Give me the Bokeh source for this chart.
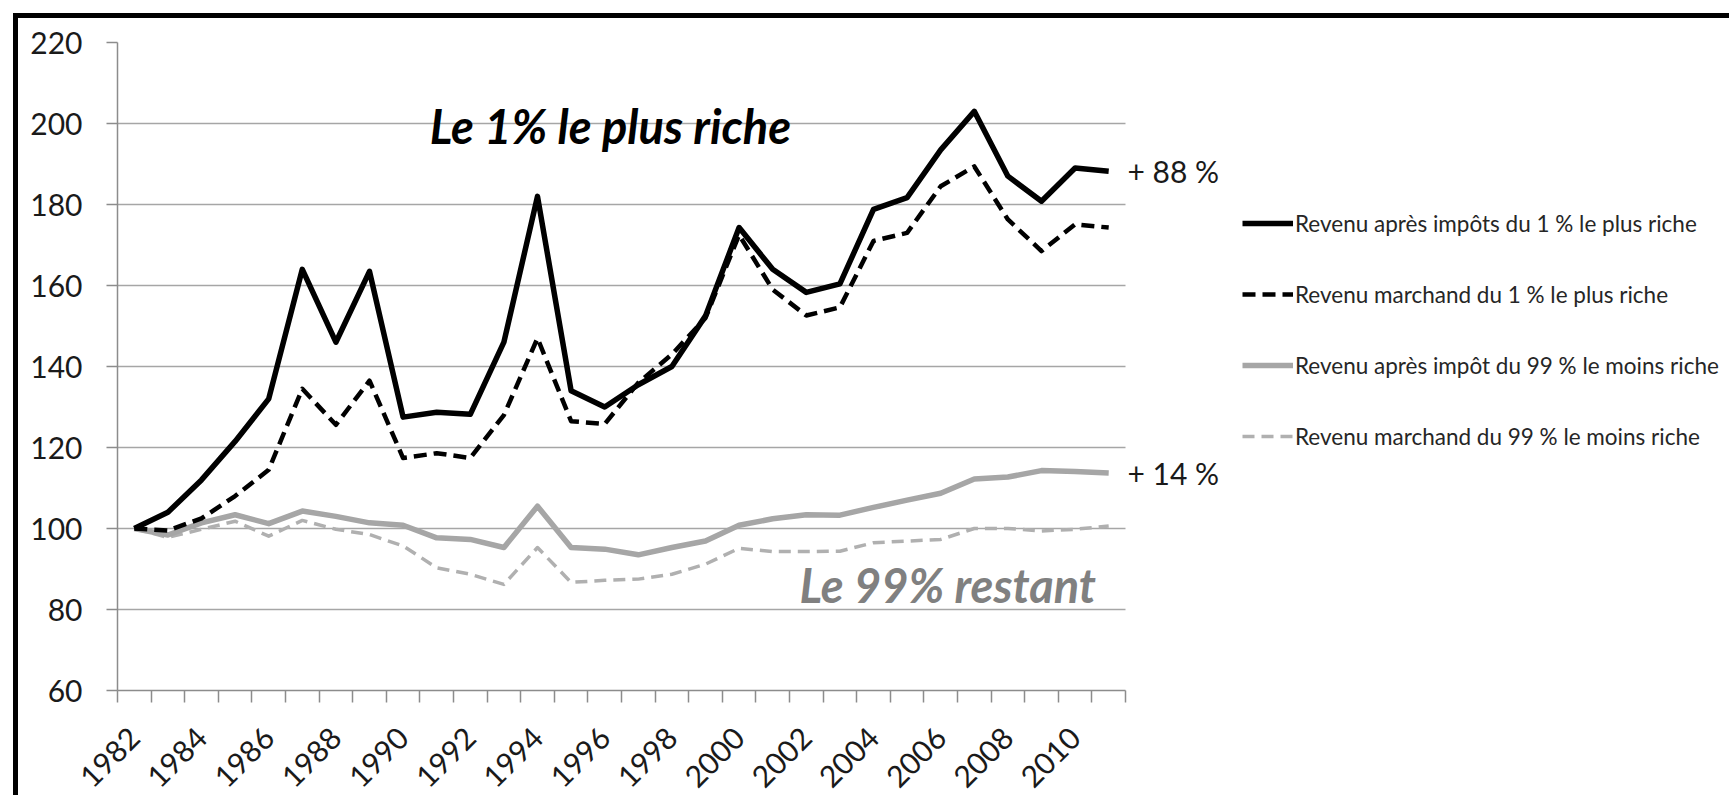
import math
from bokeh.plotting import figure
from bokeh.models import Range1d, FixedTicker, Label, Legend, LegendItem
from bokeh.embed import file_html
from bokeh.resources import INLINE

# ---------------- data ----------------
years = [1982, 1983, 1984, 1985, 1986, 1987, 1988, 1989, 1990, 1991,
         1992, 1993, 1994, 1995, 1996, 1997, 1998, 1999, 2000, 2001,
         2002, 2003, 2004, 2005, 2006, 2007, 2008, 2009, 2010, 2011]

top1_after_tax = [100, 104, 112, 121.5, 132, 164, 146, 163.5, 127.5, 128.7,
                  128.2, 146, 182, 134, 130, 135.5, 140, 152.5, 174.3, 164,
                  158.3, 160.4, 178.8, 181.7, 193.5, 203, 187, 180.8, 189, 188.2]

top1_market = [100, 99.5, 102.5, 108, 114.5, 134.5, 125.6, 136.5, 117.4, 118.6,
               117.4, 128, 147, 126.5, 125.8, 136, 143, 152, 172.5, 159,
               152.6, 154.6, 171, 173, 184.5, 189.4, 176.3, 168.5, 175.1, 174.3]

bottom99_after_tax = [100, 98.4, 101.4, 103.4, 101.2, 104.3, 103, 101.4, 100.8, 97.7,
                      97.3, 95.3, 105.5, 95.3, 94.9, 93.5, 95.3, 96.9, 100.8, 102.4,
                      103.4, 103.3, 105.2, 107, 108.7, 112.2, 112.7, 114.3, 114.1, 113.7]

bottom99_market = [100, 97.8, 99.8, 101.8, 98.1, 102, 99.8, 98.5, 95.7, 90.3,
                   88.7, 86.2, 95.3, 86.7, 87.2, 87.5, 88.7, 91.2, 95.1, 94.3,
                   94.3, 94.4, 96.5, 96.9, 97.3, 100, 100, 99.4, 99.8, 100.6]

series_labels = [
    "Revenu après impôts du 1 % le plus riche",
    "Revenu marchand du 1 % le plus riche",
    "Revenu après impôt du 99 % le moins riche",
    "Revenu marchand du 99 % le moins riche",
]

label_years = [1982, 1984, 1986, 1988, 1990, 1992, 1994, 1996, 1998, 2000,
               2002, 2004, 2006, 2008, 2010]
y_ticks = [60, 80, 100, 120, 140, 160, 180, 200, 220]

growth_labels = ["+ 88 %", "+ 14 %"]
title_top = "Le 1% le plus riche"
title_bottom = "Le 99% restant"

# ---------------- layout ----------------
FONT = "Lato"
W, H = 1716, 782
ML, MR, MT, MB = 99, 5, 24, 107
frame_w = W - ML - MR
px_per_cat = 33.6
x_start = years[0] - 0.5
x_axis_end = years[-1] + 0.5
x_end = x_start + frame_w / px_per_cat

p = figure(width=W, height=H, output_backend="svg", toolbar_location=None,
           x_range=Range1d(x_start, x_end), y_range=Range1d(y_ticks[0], y_ticks[-1]),
           min_border_left=ML, min_border_right=MR, min_border_top=MT,
           min_border_bottom=MB)
p.styles = {"margin-left": "13px", "margin-top": "13px",
            "border-left": "5px solid #000000", "border-top": "5px solid #000000"}
p.outline_line_color = None
p.background_fill_color = "white"
p.border_fill_color = "white"

AXIS_GRAY = "#8c8c8c"

# x axis
xa = p.xaxis[0]
xa.bounds = (x_start, x_axis_end)
boundaries = [y - 0.5 for y in years] + [years[-1] + 0.5]
xa.ticker = FixedTicker(ticks=label_years, minor_ticks=boundaries)
xa.major_tick_line_color = None
xa.minor_tick_line_color = AXIS_GRAY
xa.minor_tick_line_width = 1.5
xa.minor_tick_out = 12
xa.minor_tick_in = 0
xa.axis_line_color = AXIS_GRAY
xa.axis_line_width = 1.5
xa.major_label_orientation = math.pi / 4
xa.major_label_text_font = FONT
xa.major_label_text_font_size = "30px"
xa.major_label_text_color = "#1a1a1a"
xa.major_label_standoff = 30

# y axis
ya = p.yaxis[0]
ya.ticker = FixedTicker(ticks=y_ticks, minor_ticks=[])
ya.major_tick_line_color = AXIS_GRAY
ya.major_tick_line_width = 1.5
ya.major_tick_out = 11
ya.major_tick_in = 0
ya.minor_tick_line_color = None
ya.axis_line_color = AXIS_GRAY
ya.axis_line_width = 1.5
ya.major_label_text_font = FONT
ya.major_label_text_font_size = "30px"
ya.major_label_text_color = "#1a1a1a"
ya.major_label_standoff = 24

# grid
p.xgrid.grid_line_color = None
yg = p.ygrid[0]
yg.ticker = FixedTicker(ticks=y_ticks, minor_ticks=[])
if "cross_bounds" in yg.properties():
    yg.cross_bounds = (x_start, x_axis_end)
    yg.grid_line_color = "#a6a6a6"
    yg.grid_line_width = 1.5
else:
    yg.grid_line_color = None
    p.segment(x0=[x_start] * len(y_ticks), x1=[x_axis_end] * len(y_ticks),
              y0=y_ticks, y1=y_ticks, line_color="#a6a6a6", line_width=1.5)

# series
r4 = p.line(years, bottom99_market, line_color="#b0b0b0", line_width=3.5,
            line_dash="12 7", line_join="round")
r3 = p.line(years, bottom99_after_tax, line_color="#a6a6a6", line_width=5.5,
            line_join="round")
r2 = p.line(years, top1_market, line_color="#000000", line_width=4.5,
            line_dash="13 7", line_join="round")
r1 = p.line(years, top1_after_tax, line_color="#000000", line_width=5.5,
            line_join="round")

legend = Legend(items=[LegendItem(label=series_labels[0], renderers=[r1]),
                       LegendItem(label=series_labels[1], renderers=[r2]),
                       LegendItem(label=series_labels[2], renderers=[r3]),
                       LegendItem(label=series_labels[3], renderers=[r4])],
                location=(1125, 240))
legend.glyph_width = 51
legend.glyph_height = 28
legend.label_height = 28
legend.label_standoff = 2
legend.spacing = 43
legend.padding = 0
legend.margin = 0
legend.border_line_color = None
legend.background_fill_alpha = 0
legend.label_text_font = FONT
legend.label_text_font_size = "22.5px"
legend.label_text_color = "#262626"
p.add_layout(legend)

# annotations
p.add_layout(Label(x=1996.17, y=199.5, text=title_top, text_font=FONT,
                   text_font_size="47px", text_font_style="bold italic",
                   text_color="#000000", text_align="center",
                   text_baseline="alphabetic"))
p.add_layout(Label(x=2006.21, y=86.0, text=title_bottom, text_font=FONT,
                   text_font_size="47px", text_font_style="bold italic",
                   text_color="#808080", text_align="center",
                   text_baseline="alphabetic"))
p.add_layout(Label(x=x_axis_end, y=top1_after_tax[-1], x_offset=2,
                   text=growth_labels[0], text_font=FONT, text_font_size="30px",
                   text_color="#1a1a1a", text_align="left", text_baseline="middle"))
p.add_layout(Label(x=x_axis_end, y=bottom99_after_tax[-1], x_offset=2,
                   text=growth_labels[1], text_font=FONT, text_font_size="30px",
                   text_color="#1a1a1a", text_align="left", text_baseline="middle"))

open("out.html", "w").write(file_html(p, INLINE))
